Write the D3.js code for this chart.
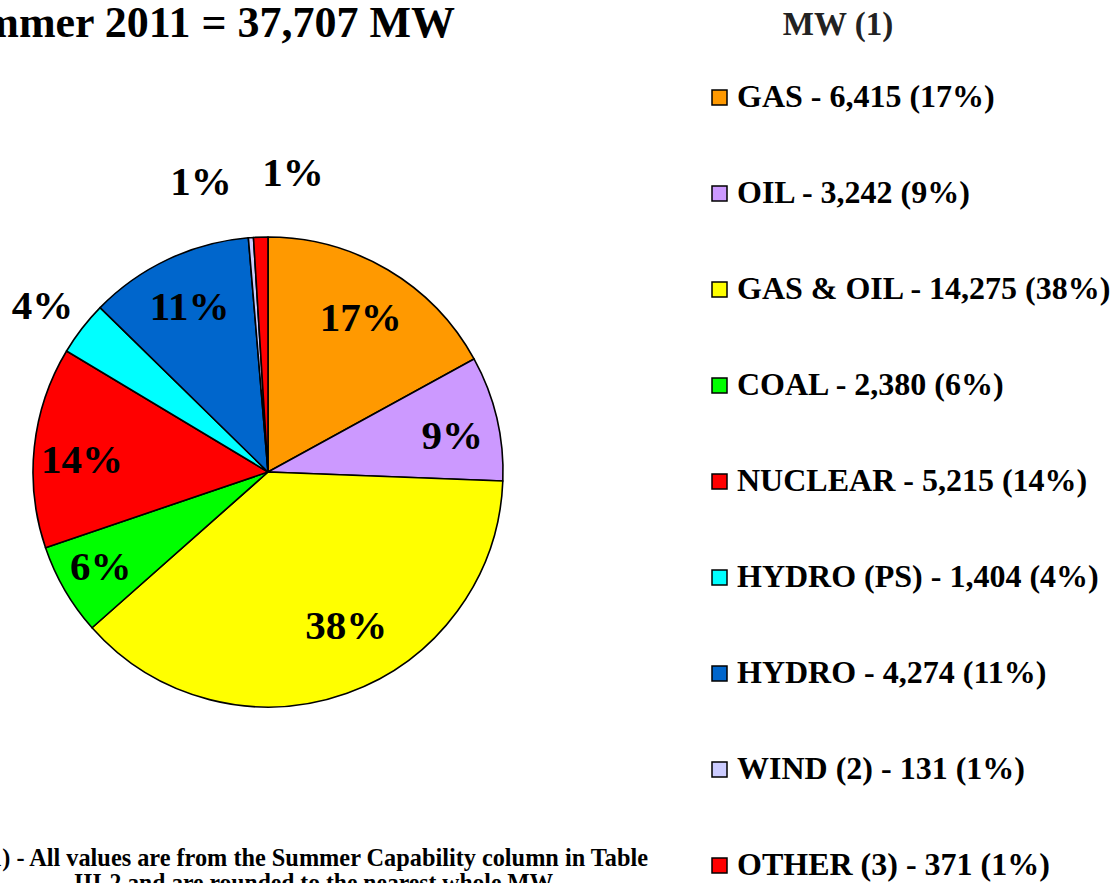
<!DOCTYPE html>
<html>
<head>
<meta charset="utf-8">
<script src="https://cdn.jsdelivr.net/npm/d3@7"></script>
<style>
  body { margin: 0; background: #fff; }
  svg { display: block; font-family: "Liberation Serif", "Times New Roman", serif; font-weight: bold; }
</style>
</head>
<body>
<svg id="chart"></svg>
<script>
const categories = ["GAS", "OIL", "GAS & OIL", "COAL", "NUCLEAR", "HYDRO (PS)", "HYDRO", "WIND (2)", "OTHER (3)"];
const values = [6415, 3242, 14275, 2380, 5215, 1404, 4274, 131, 371];
const percents = ["17%", "9%", "38%", "6%", "14%", "4%", "11%", "1%", "1%"];
const colors = ["#FF9900", "#CC99FF", "#FFFF00", "#00FF00", "#FF0000", "#00FFFF", "#0066CC", "#CCCCFF", "#FF0000"];
// which labels sit outside the pie
const outsideLabel = [false, false, false, false, false, true, false, true, true];
// small nudges of the labels, in px
const labelNudge = [[0, 1], [7, 4], [17, -19], [-10, 2], [-5, 6], [4, 10], [-1, -2], [-46, -2], [34, -10]];

const width = 1113, height = 883;
const cx = 268, cy = 472, radius = 235;

const svg = d3.select("#chart").attr("width", width).attr("height", height);

// title (cut off at the left edge in the original)
svg.append("text")
  .attr("x", 455).attr("y", 37)
  .attr("text-anchor", "end")
  .style("font-size", "44px")
  .text("Summer 2011 = 37,707 MW");

const pie = d3.pie().sort(null).value((d) => d);
const arcs = pie(values);

const arc = d3.arc().innerRadius(0).outerRadius(radius);
const innerLabel = d3.arc().innerRadius(182).outerRadius(182);
const outerLabel = d3.arc().innerRadius(290).outerRadius(290);

const g = svg.append("g").attr("transform", `translate(${cx},${cy})`);

g.selectAll("path")
  .data(arcs)
  .enter()
  .append("path")
  .attr("d", arc)
  .attr("fill", (d, i) => colors[i])
  .attr("stroke", "#000")
  .attr("stroke-width", 1.6)
  .attr("stroke-linejoin", "round");

g.selectAll("text.pct")
  .data(arcs)
  .enter()
  .append("text")
  .attr("class", "pct")
  .attr("transform", (d, i) => {
    const c = outsideLabel[i] ? outerLabel.centroid(d) : innerLabel.centroid(d);
    return `translate(${c[0] + labelNudge[i][0]},${c[1] + labelNudge[i][1]})`;
  })
  .attr("text-anchor", "middle")
  .attr("dy", "0.35em")
  .style("font-size", "41px")
  .text((d, i) => percents[i]);

// legend
svg.append("text")
  .attr("x", 838).attr("y", 35)
  .attr("text-anchor", "middle")
  .style("font-size", "33px")
  .style("fill", "#222")
  .text("MW (1)");

const fmt = d3.format(",");
const legend = svg.append("g").attr("transform", "translate(712,107)");
const rows = legend.selectAll("g")
  .data(categories)
  .enter()
  .append("g")
  .attr("transform", (d, i) => `translate(0,${i * 96})`);

rows.append("rect")
  .attr("x", 0).attr("y", -17)
  .attr("width", 15).attr("height", 15)
  .attr("fill", (d, i) => colors[i])
  .attr("stroke", "#000")
  .attr("stroke-width", 1.5);

rows.append("text")
  .attr("x", 25).attr("y", 0)
  .style("font-size", "32px")
  .text((d, i) => `${d} - ${fmt(values[i])} (${percents[i]})`);

// footnote
svg.append("text")
  .attr("x", -18).attr("y", 866)
  .attr("textLength", 666)
  .attr("lengthAdjust", "spacingAndGlyphs")
  .style("font-size", "25px")
  .text("(1) - All values are from the Summer Capability column in Table");
svg.append("text")
  .attr("x", 74).attr("y", 891)
  .attr("textLength", 483)
  .attr("lengthAdjust", "spacingAndGlyphs")
  .style("font-size", "25px")
  .text("III-2 and are rounded to the nearest whole MW.");
</script>
</body>
</html>
